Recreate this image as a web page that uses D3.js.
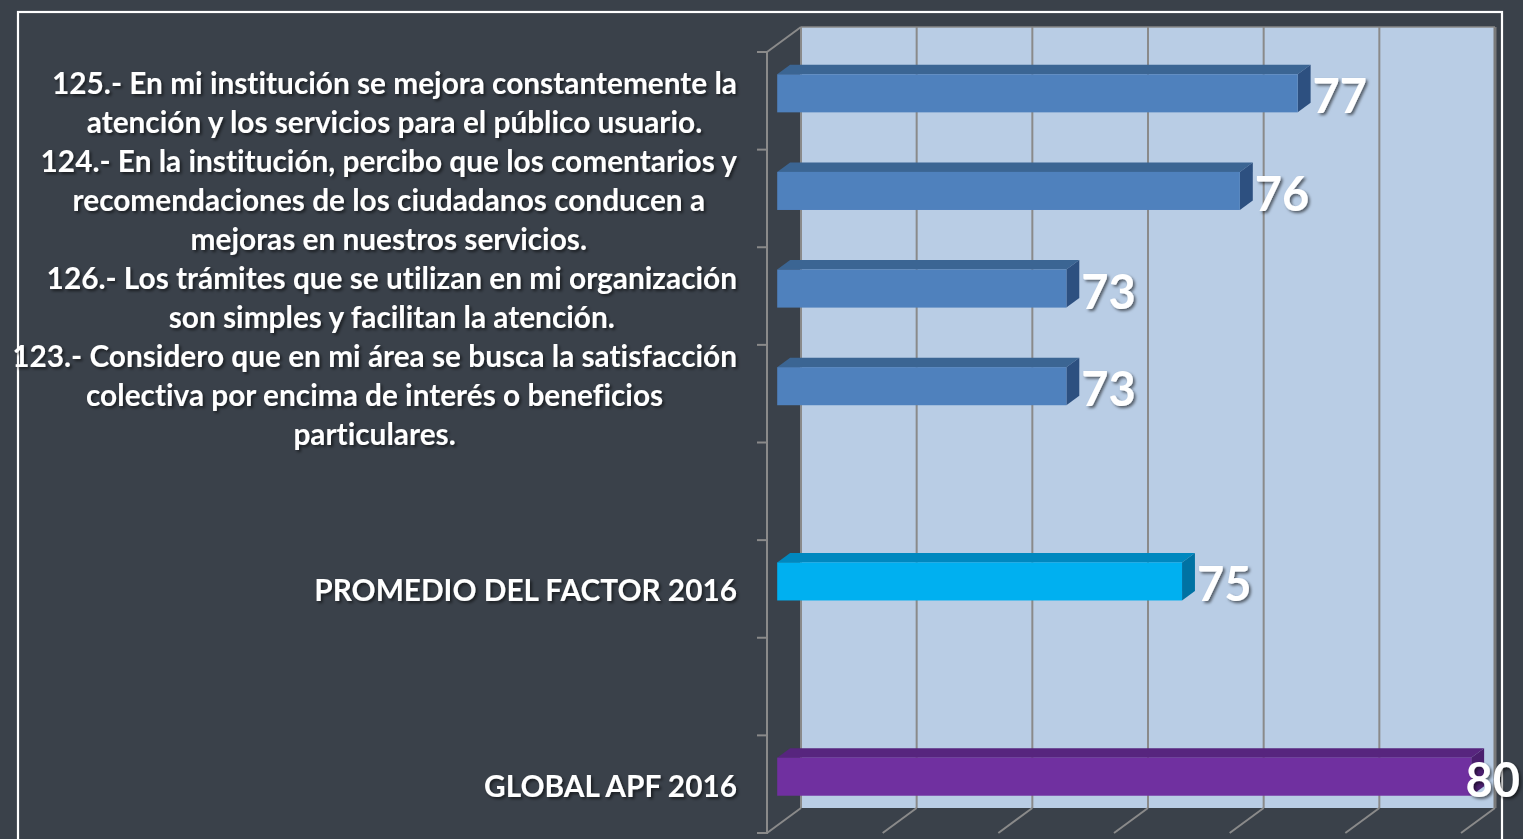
<!DOCTYPE html>
<html>
<head>
<meta charset="utf-8">
<script src="https://cdn.jsdelivr.net/npm/d3@7"></script>
<style>
  html, body { margin: 0; padding: 0; background: #3a414a; overflow: hidden; }
  svg { display: block; }
  text { font-variant-ligatures: none; font-feature-settings: "liga" 0, "clig" 0; }
</style>
</head>
<body>
<svg id="chart" width="1523" height="839"></svg>
<script>
// ---- data ----
const categories = ["q125", "q124", "q126", "q123", "gap1", "promedio", "gap2", "global"];
const labelLines = [
  ["125.- En mi institución se mejora constantemente la", "atención y los servicios para el público usuario."],
  ["124.- En la institución, percibo que los comentarios y", "recomendaciones de los ciudadanos conducen a", "mejoras en nuestros servicios."],
  ["126.- Los trámites que se utilizan en mi organización", "son simples y facilitan la atención."],
  ["123.- Considero que en mi área se busca la satisfacción", "colectiva por encima de interés o beneficios", "particulares."],
  [],
  ["PROMEDIO DEL FACTOR 2016"],
  [],
  ["GLOBAL APF 2016"]
];
const values = [77, 76, 73, 73, null, 75, null, 80];
const barColors = ["blue", "blue", "blue", "blue", null, "cyan", null, "purple"];
const axisDomain = [68, 80];
const gridTicks = [68, 70, 72, 74, 76, 78, 80];

// ---- styles ----
const palette = {
  blue:   { front: "#4f81bd", top: "#3b6593", side: "#2d5080" },
  cyan:   { front: "#00b0f0", top: "#0088bf", side: "#0072a3" },
  purple: { front: "#7030a0", top: "#57257e", side: "#4b1f6e" }
};
const W = 1523, H = 839;
const DX = 34, DY = 25;           // depth projection of full depth
const zFront = 0.30, zBack = 0.68; // bar depth within the plot
const svg = d3.select("#chart");

const defs = svg.append("defs");
const f = defs.append("filter").attr("id", "shadow").attr("x", "-10%").attr("y", "-20%").attr("width", "130%").attr("height", "160%");
f.append("feDropShadow").attr("dx", 2).attr("dy", 2).attr("stdDeviation", 1.5).attr("flood-color", "#000").attr("flood-opacity", 0.55);

// scales on the front plane (z = 0)
const x = d3.scaleLinear().domain(axisDomain).range([767, 1461]);
const y = d3.scaleBand().domain(categories).range([52, 833]).padding(0);
const proj = (px, py, z) => [px + DX * z, py - DY * z];

// frame
svg.append("rect").attr("x", 18).attr("y", 12).attr("width", 1484).attr("height", 860)
  .attr("fill", "none").attr("stroke", "#ffffff").attr("stroke-width", 2.2);

// back wall
const [bx0, by0] = proj(x(axisDomain[0]), y.range()[0], 1);
const [bx1, by1] = proj(x(axisDomain[1]), y.range()[1], 1);
svg.append("rect").attr("x", bx0).attr("y", by0).attr("width", bx1 - bx0).attr("height", by1 - by0)
  .attr("fill", "#b9cde5");

// gridlines on back wall + floor diagonals
const grid = svg.append("g").attr("stroke", "#8a8a8a").attr("stroke-width", 2).attr("fill", "none");
gridTicks.forEach((t, i) => {
  const [gx, gy0] = proj(x(t), y.range()[0], 1);
  const [, gy1] = proj(x(t), y.range()[1], 1);
  grid.append("line").attr("x1", gx).attr("x2", gx).attr("y1", gy0).attr("y2", gy1)
    .attr("stroke", i === gridTicks.length - 1 ? "#7a7a7a" : "#8a8a8a")
    .attr("stroke-width", i === gridTicks.length - 1 ? 3 : 2);
  const [fx, fy] = proj(x(t), y.range()[1], 0);
  grid.append("line").attr("x1", fx).attr("y1", fy).attr("x2", gx).attr("y2", gy1);
});
// wall top edge
grid.append("line").attr("x1", bx0).attr("x2", bx1).attr("y1", by0).attr("y2", by0).attr("stroke-width", 1.5);
// left axis + side diagonals
const ax0 = x(axisDomain[0]);
grid.append("line").attr("x1", ax0).attr("x2", ax0).attr("y1", y.range()[0]).attr("y2", y.range()[1] + 1);
grid.append("line").attr("x1", ax0).attr("y1", y.range()[0]).attr("x2", bx0).attr("y2", by0);
const tickYs = categories.map(c => y(c)).concat([y.range()[1]]);
tickYs.forEach(ty => {
  grid.append("line").attr("x1", ax0 - 10).attr("x2", ax0).attr("y1", ty).attr("y2", ty);
});

// bars (3D)
const bh = y.bandwidth() * 0.39;
const bars = svg.append("g");
categories.forEach((c, i) => {
  const v = values[i];
  if (v == null) return;
  const col = palette[barColors[i]];
  const cy = y(c) + y.bandwidth() / 2;
  const [x0, yTop] = proj(x(axisDomain[0]), cy - bh / 2, zFront);
  const [x1] = proj(x(v), cy, zFront);
  const yBot = yTop + bh;
  const ddx = DX * (zBack - zFront), ddy = DY * (zBack - zFront);
  const g = bars.append("g");
  // top face
  g.append("path").attr("d", `M${x0},${yTop} L${x1},${yTop} L${x1 + ddx},${yTop - ddy} L${x0 + ddx},${yTop - ddy} Z`)
    .attr("fill", col.top);
  // side face
  g.append("path").attr("d", `M${x1},${yTop} L${x1 + ddx},${yTop - ddy} L${x1 + ddx},${yBot - ddy} L${x1},${yBot} Z`)
    .attr("fill", col.side);
  // front
  g.append("rect").attr("x", x0).attr("y", yTop).attr("width", x1 - x0).attr("height", bh).attr("fill", col.front);

  // value label
  const t = svg.append("text")
    .attr("x", x1 + ddx + 2).attr("y", cy - DY * zFront + 2)
    .attr("dominant-baseline", "central")
    .attr("font-family", "Lato, 'Open Sans', sans-serif").attr("font-weight", 700).attr("font-size", 47)
    .attr("fill", "#ffffff").attr("filter", "url(#shadow)")
    .text(v);
  const w = t.node().getComputedTextLength();
  if (x1 + ddx + 2 + w > W - 3) t.attr("x", W - 3 - w);
});

// category labels
const lab = svg.append("g").attr("font-family", "Lato, 'Open Sans', sans-serif").attr("font-weight", 700)
  .attr("fill", "#ffffff").attr("filter", "url(#shadow)");
let fs = 26;
// calibrate size so that the widest line matches reference width
const probe = lab.append("text").attr("font-size", fs).text(labelLines[3][0]);
fs = fs * 725 / probe.node().getComputedTextLength();
probe.remove();
const rightEdge = 737, lineH = 39;
categories.forEach((c, i) => {
  const lines = labelLines[i];
  if (!lines.length) return;
  const cy = y(c) + y.bandwidth() / 2 + 1;
  const texts = lines.map((ln, j) => lab.append("text").attr("font-size", fs)
    .attr("y", cy + (j - (lines.length - 1) / 2) * lineH)
    .attr("dominant-baseline", "central").attr("text-anchor", "middle").text(ln));
  const maxW = d3.max(texts, t => t.node().getComputedTextLength());
  texts.forEach(t => t.attr("x", rightEdge - maxW / 2));
});
</script>
</body>
</html>
